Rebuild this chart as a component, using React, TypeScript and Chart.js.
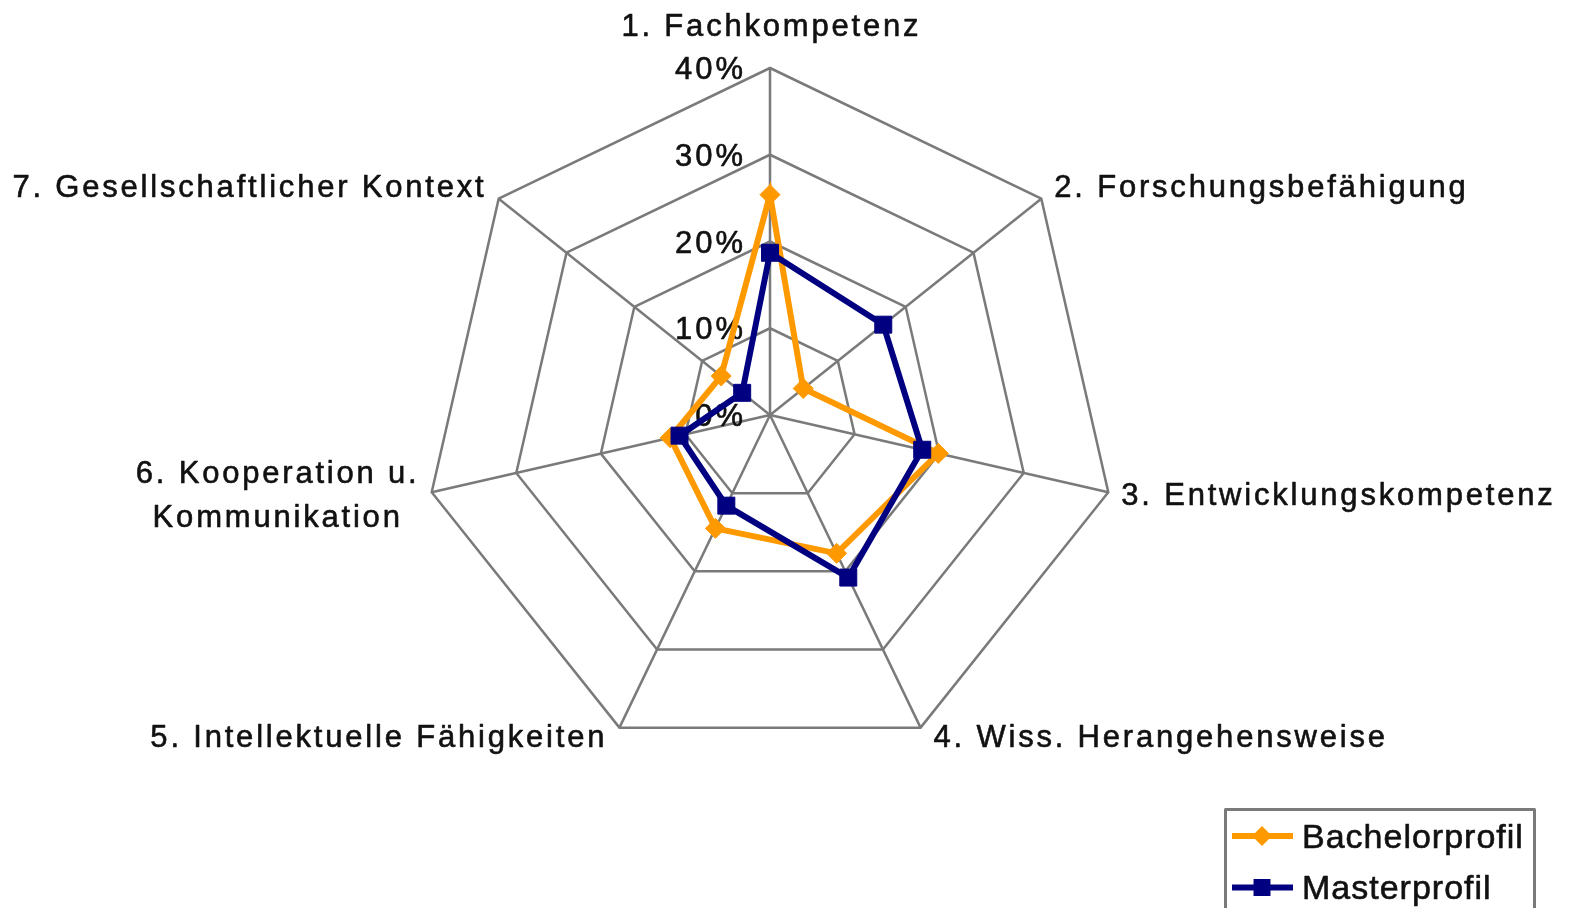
import { useEffect, useRef } from 'react';
import { Chart, registerables } from 'chart.js';

Chart.register(...registerables);

// ---- data ----
const categories: (string | string[])[] = [
  '1. Fachkompetenz',
  '2. Forschungsbefähigung',
  '3. Entwicklungskompetenz',
  '4. Wiss. Herangehensweise',
  '5. Intellektuelle Fähigkeiten',
  ['6. Kooperation u.', 'Kommunikation'],
  '7. Gesellschaftlicher Kontext',
];
const bachelorValues = [25.4, 4.9, 19.9, 17.7, 14.5, 11.8, 7.2];
const masterValues = [18.7, 16.7, 18.0, 20.8, 11.6, 10.7, 4.1];
const seriesNames = ['Bachelorprofil', 'Masterprofil'];
const tickValues = [0, 10, 20, 30, 40];
const tickLabels = ['0%', '10%', '20%', '30%', '40%'];

// ---- styling ----
const FONT = '"Liberation Sans", Arial, Helvetica, sans-serif';
const ORANGE = '#FF9900';
const NAVY = '#000080';
const GRID = '#7a7a7a';
const TEXT = '#111';

function drawSpaced(
  ctx: CanvasRenderingContext2D,
  text: string,
  x: number,
  y: number,
  align: 'left' | 'right' | 'center',
  spacing: number
) {
  (ctx as any).letterSpacing = '0px';
  const w0 = ctx.measureText(text).width;
  const w = w0 + spacing * (text.length - 1);
  const left = align === 'left' ? x : align === 'right' ? x - w : x - w / 2;
  (ctx as any).letterSpacing = spacing + 'px';
  ctx.textAlign = 'left';
  ctx.fillText(text, left, y);
  ctx.strokeText(text, left, y);
  (ctx as any).letterSpacing = '0px';
  return w;
}

function textWidth(ctx: CanvasRenderingContext2D, text: string, spacing: number) {
  (ctx as any).letterSpacing = '0px';
  return ctx.measureText(text).width + spacing * (text.length - 1);
}

function drawMarker(ctx: CanvasRenderingContext2D, style: string, x: number, y: number, r: number, color: string) {
  ctx.fillStyle = color;
  ctx.beginPath();
  if (style === 'rectRot') {
    ctx.moveTo(x - r, y);
    ctx.lineTo(x, y - r);
    ctx.lineTo(x + r, y);
    ctx.lineTo(x, y + r);
    ctx.closePath();
  } else {
    const s = r * Math.SQRT1_2;
    ctx.rect(x - s, y - s, 2 * s, 2 * s);
  }
  ctx.fill();
}

function textStyle(ctx: CanvasRenderingContext2D, size: number) {
  ctx.fillStyle = TEXT;
  ctx.strokeStyle = TEXT;
  ctx.lineWidth = 0.6;
  ctx.lineJoin = 'round';
  ctx.font = `${size}px ${FONT}`;
  ctx.textBaseline = 'alphabetic';
}

const customPlugin = {
  id: 'customRadarLayout',
  afterLayout(chart: any) {
    const s = chart.scales.r;
    s.xCenter = 770;
    s.yCenter = 415;
    s.drawingArea = 347;
  },
  beforeDatasetsDraw(chart: any) {
    const ctx: CanvasRenderingContext2D = chart.ctx;
    const s = chart.scales.r;
    ctx.save();
    textStyle(ctx, 31);
    tickValues.forEach((v, i) => {
      const d = s.getDistanceFromCenterForValue(v);
      drawSpaced(ctx, tickLabels[i], s.xCenter - 27, s.yCenter - d + 11, 'right', 3);
    });
    ctx.restore();
  },
  afterDraw(chart: any) {
    const ctx: CanvasRenderingContext2D = chart.ctx;
    const s = chart.scales.r;
    const R = s.drawingArea;
    ctx.save();
    textStyle(ctx, 31);
    const spacing = 2.8;
    const lineH = 43.5;
    const capH = 22;
    categories.forEach((lbl, i) => {
      const p = s.getPointPosition(i, R);
      const cos = (p.x - s.xCenter) / R;
      const sin = (p.y - s.yCenter) / R;
      const lines = Array.isArray(lbl) ? lbl : [lbl];
      let cy: number;
      if (sin < -0.9) cy = p.y - 43;
      else if (sin < 0) cy = p.y - 13;
      else if (sin < 0.5) cy = p.y + 2;
      else cy = p.y + 8.5;
      const widths = lines.map((t) => textWidth(ctx, t, spacing));
      const bw = Math.max(...widths);
      let blockCenterX: number;
      if (cos > 0.1) blockCenterX = p.x + 13 + bw / 2;
      else if (cos < -0.1) blockCenterX = p.x - 15 - bw / 2;
      else blockCenterX = p.x;
      lines.forEach((t, k) => {
        const base = cy - ((lines.length - 1) * lineH) / 2 + k * lineH + capH / 2;
        drawSpaced(ctx, t, blockCenterX, base, 'center', spacing);
      });
    });

    // legend
    const lx = 1225.5;
    const ly = 809.5;
    ctx.fillStyle = '#fff';
    ctx.fillRect(lx, ly, 309, 130);
    ctx.strokeStyle = GRID;
    ctx.lineWidth = 3;
    ctx.strokeRect(lx, ly, 309, 130);
    chart.data.datasets.forEach((ds: any, i: number) => {
      const y = 836 + i * 51.5;
      ctx.strokeStyle = ds.borderColor;
      ctx.lineWidth = 6;
      ctx.beginPath();
      ctx.moveTo(1232, y);
      ctx.lineTo(1293, y);
      ctx.stroke();
      drawMarker(ctx, ds.pointStyle, 1262, y, ds.pointRadius, ds.borderColor);
      textStyle(ctx, 34);
      drawSpaced(ctx, ds.label, 1302, y + 11.5, 'left', 1);
    });
    ctx.restore();
  },
};

export default function App() {
  const ref = useRef<HTMLCanvasElement | null>(null);
  useEffect(() => {
    if (!ref.current) return;
    document.body.style.background = '#fff';
    const chart = new Chart(ref.current, {
      type: 'radar',
      data: {
        labels: categories as any,
        datasets: [
          {
            label: seriesNames[0],
            data: bachelorValues,
            borderColor: ORANGE,
            backgroundColor: ORANGE,
            borderWidth: 6,
            pointStyle: 'rectRot',
            pointRadius: 10,
            pointBorderWidth: 1,
            pointBackgroundColor: ORANGE,
            pointBorderColor: ORANGE,
            fill: false,
            tension: 0,
            order: 2,
          } as any,
          {
            label: seriesNames[1],
            data: masterValues,
            borderColor: NAVY,
            backgroundColor: NAVY,
            borderWidth: 6,
            pointStyle: 'rect',
            pointRadius: 12,
            pointBorderWidth: 1,
            pointBackgroundColor: NAVY,
            pointBorderColor: NAVY,
            fill: false,
            tension: 0,
            order: 1,
          } as any,
        ],
      },
      options: {
        animation: false,
        responsive: false,
        maintainAspectRatio: false,
        devicePixelRatio: 1,
        layout: { padding: 0, autoPadding: false } as any,
        plugins: {
          legend: { display: false },
          tooltip: { enabled: false },
        },
        scales: {
          r: {
            min: 0,
            max: 40,
            beginAtZero: true,
            ticks: { stepSize: 10, display: false },
            grid: { color: GRID, lineWidth: 2.5 },
            angleLines: { color: GRID, lineWidth: 2.5 },
            pointLabels: { display: false },
          },
        },
      } as any,
      plugins: [customPlugin],
    });
    return () => chart.destroy();
  }, []);

  return (
    <div style={{ position: 'absolute', left: 0, top: 0, width: 1579, height: 908, background: '#fff' }}>
      <canvas ref={ref} width={1579} height={908} style={{ display: 'block', width: 1579, height: 908 }} />
    </div>
  );
}
